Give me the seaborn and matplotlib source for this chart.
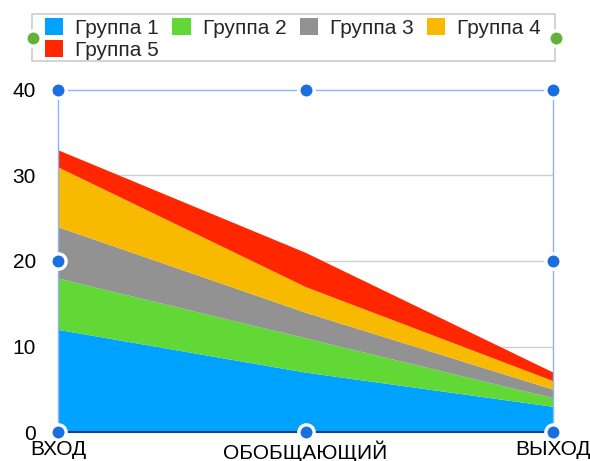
import matplotlib
matplotlib.use("Agg")
import matplotlib.pyplot as plt
from matplotlib.patches import Patch, Rectangle
from matplotlib.lines import Line2D
import seaborn as sns
import pandas as pd

# data
stages = ["ВХОД", "ОБОБЩАЮЩИЙ", "ВЫХОД"]
groups = ["Группа 1", "Группа 2", "Группа 3", "Группа 4", "Группа 5"]
g1 = [12, 7, 3]
g2 = [6, 4, 1]
g3 = [6, 3, 1]
g4 = [7, 3, 1]
g5 = [2, 4, 1]
colors = ["#00A2FF", "#61D836", "#929292", "#F8BA00", "#FF2600"]

df = pd.DataFrame({"Группа 1": g1, "Группа 2": g2, "Группа 3": g3,
                   "Группа 4": g4, "Группа 5": g5}, index=stages)

sns.set_theme(style="white")
plt.rcParams['font.family'] = ['Liberation Sans', 'DejaVu Sans']

W, H = 590, 461
fig = plt.figure(figsize=(W / 100, H / 100), dpi=100)
ax = fig.add_axes([58/W, 29/H, 495/W, 342/H])

x = range(len(stages))
ax.stackplot(x, *[df[g] for g in groups], colors=colors, linewidth=0)

ax.set_xlim(0, len(stages) - 1)
ax.set_ylim(0, 40)
ax.set_yticks([0, 10, 20, 30, 40])
ax.set_xticks(list(x))
ax.set_xticklabels(stages)
ax.tick_params(axis="both", labelsize=15, length=0, colors="black")
ax.tick_params(axis="y", pad=16)
ax.tick_params(axis="x", pad=6)
for y in [10, 20, 30]:
    ax.axhline(y, color="#CFCFCF", lw=1, zorder=0)
ax.set_axisbelow(True)

for s in ["top", "left", "right"]:
    ax.spines[s].set_color("#8FB3F5")
    ax.spines[s].set_linewidth(1)
ax.spines["bottom"].set_color("#1F3F8C")
ax.spines["bottom"].set_linewidth(1.5)

# selection handles
handle_pts = [(0, 0), (0.5, 0), (1, 0), (0, 0.5), (1, 0.5), (0, 1), (0.5, 1), (1, 1)]
for hx, hy in handle_pts:
    ax.plot(hx, hy, "o", transform=ax.transAxes, ms=11, mfc="#1A6FE0",
            mec="white", mew=2.4, clip_on=False, zorder=10)

# legend: row-wise order for 4 columns
order = [0, 4, 1, 2, 3]
handles = [Patch(facecolor=colors[i], edgecolor="none") for i in order]
labels = [groups[i] for i in order]
leg = fig.legend(handles, labels, loc="upper left", ncol=4, mode="expand",
                 bbox_to_anchor=(45/W, 0, 496/W, 1 - 18/H),
                 fontsize=15, frameon=False, borderaxespad=0, borderpad=0,
                 handlelength=0.87, handleheight=0.87, handletextpad=0.58,
                 labelspacing=0.12)
fig.add_artist(Rectangle((32/W, 1 - 61/H), 523/W, 47/H, transform=fig.transFigure,
                         fill=False, edgecolor="#CCCCCC", lw=1.2))

for gx in [33/W, 556/W]:
    fig.add_artist(Line2D([gx], [1 - 38/H], marker="o", ms=11, mfc="#62B23A",
                          mec="white", mew=2.4, transform=fig.transFigure, zorder=10))

fig.savefig("out.png", dpi=100)
